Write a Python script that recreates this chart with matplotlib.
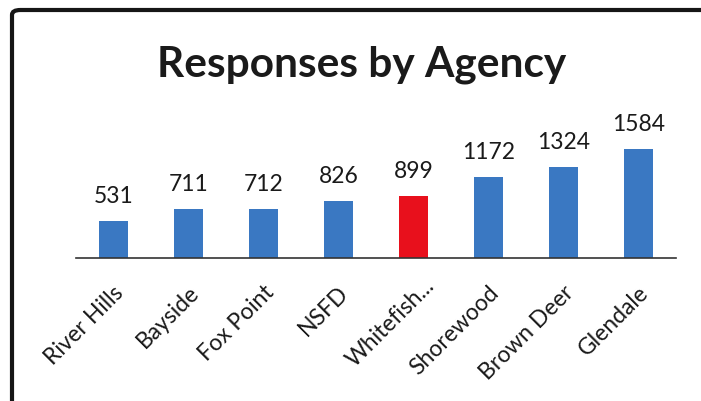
import matplotlib.pyplot as plt
from matplotlib.patches import FancyBboxPatch

# data
agencies = ["River Hills", "Bayside", "Fox Point", "NSFD", "Whitefish...",
            "Shorewood", "Brown Deer", "Glendale"]
responses = [531, 711, 712, 826, 899, 1172, 1324, 1584]
highlight = "Whitefish..."

blue = "#3a78c2"
red = "#e8101c"
colors = [red if a == highlight else blue for a in agencies]

plt.rcParams['font.family'] = ['Lato', 'DejaVu Sans']

W, H = 701, 402
fig = plt.figure(figsize=(W / 100, H / 100), dpi=100)

# frame of the scanned chart (right/bottom run off the page)
frame = FancyBboxPatch((12 / W, -0.5), 2.0, (H - 11) / H + 0.5,
                       boxstyle="round,pad=0,rounding_size=0.012",
                       transform=fig.transFigure, fill=False,
                       edgecolor="#161616", linewidth=3.0, clip_on=False)
fig.add_artist(frame)

ax = fig.add_axes([76 / W, 143 / H, 600 / W, 124 / H])
x = range(len(agencies))
ax.bar(x, responses, width=0.39, color=colors)
ax.set_xlim(-0.5, len(agencies) - 0.5)
ax.set_ylim(0, 1800)

for sp in ["top", "right", "left"]:
    ax.spines[sp].set_visible(False)
ax.spines["bottom"].set_color("#333333")
ax.spines["bottom"].set_linewidth(1.2)
ax.set_yticks([])
ax.set_xticks([])

for i, v in enumerate(responses):
    ax.annotate(str(v), xy=(i, v), xytext=(0, 13.7), textcoords="offset points",
                ha="center", va="baseline", fontsize=16.5, color="#1a1a1a")

for i, a in enumerate(agencies):
    dx, dy = (5, -22) if a != highlight else (13, -17)
    ax.annotate(a, xy=(i, 0), xycoords=("data", "axes fraction"),
                xytext=(dx, dy), textcoords="offset points",
                ha="right", va="center", rotation=45, rotation_mode="anchor",
                fontsize=16.5, color="#1a1a1a")

fig.text(362 / W, 1 - 77 / H, "Responses by Agency", ha="center", va="baseline",
         fontsize=30.5, fontweight="bold", color="#1a1a1a")

fig.savefig("out.png", dpi=100)
